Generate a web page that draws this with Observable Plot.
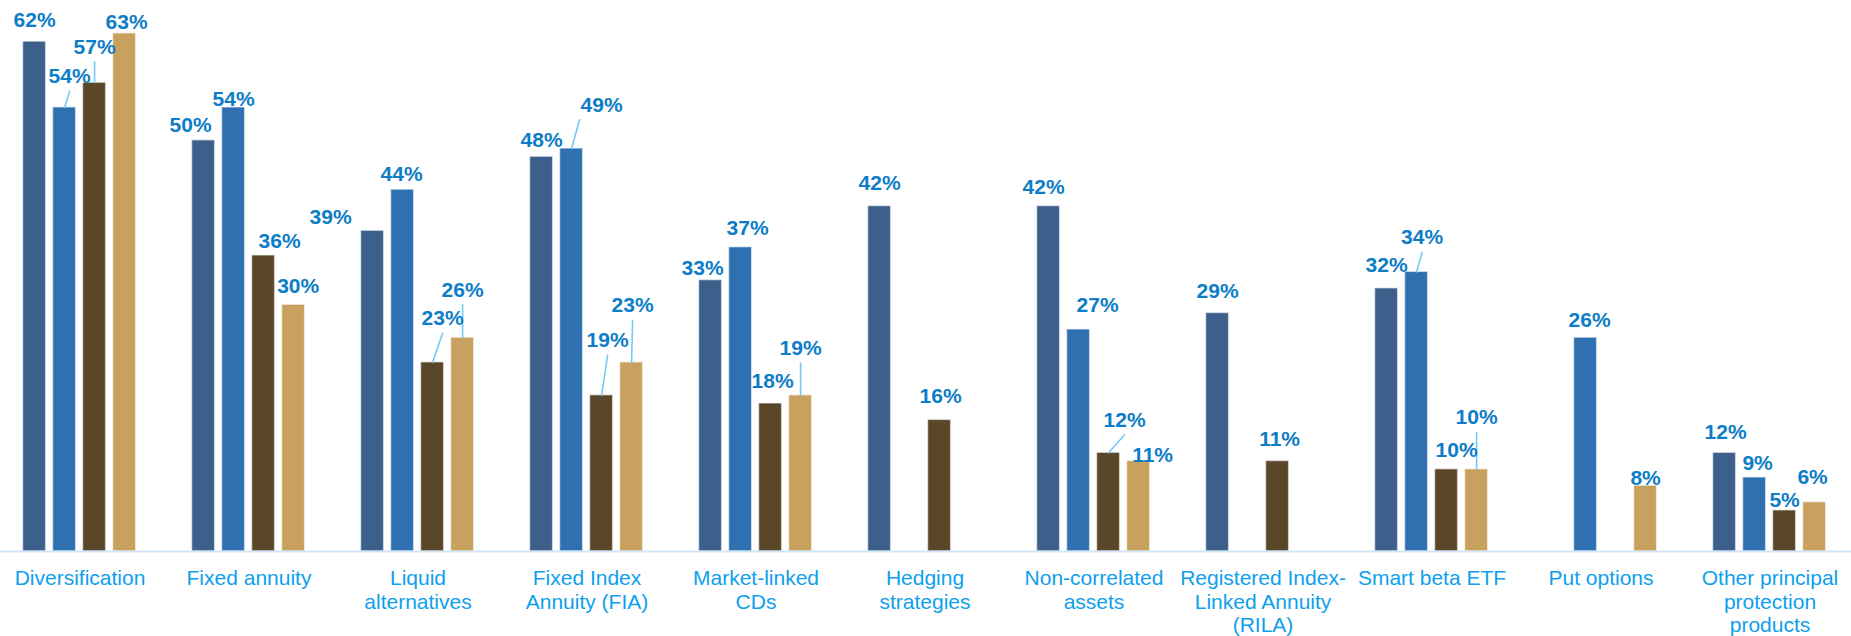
<!DOCTYPE html>
<html><head><meta charset="utf-8">
<script src="https://cdn.jsdelivr.net/npm/d3@7"></script>
<script src="https://cdn.jsdelivr.net/npm/@observablehq/plot@0.6"></script>
<style>html,body{margin:0;padding:0;background:#fff;} #chart{width:1851px;height:636px;overflow:hidden}</style>
</head><body><div id="chart"></div>
<script>
const categories = ["Diversification","Fixed annuity","Liquid alternatives","Fixed Index Annuity (FIA)","Market-linked CDs","Hedging strategies","Non-correlated assets","Registered Index-Linked Annuity (RILA)","Smart beta ETF","Put options","Other principal protection products"];
const categoryLabels = ["Diversification","Fixed annuity","Liquid\nalternatives","Fixed Index\nAnnuity (FIA)","Market-linked\nCDs","Hedging\nstrategies","Non-correlated\nassets","Registered Index-\nLinked Annuity\n(RILA)","Smart beta ETF","Put options","Other principal\nprotection\nproducts"];
const seriesNames = ["Series 1","Series 2","Series 3","Series 4"];
const series1 = [62,50,39,48,33,42,42,29,32,null,12];
const series2 = [54,54,44,49,37,null,27,null,34,26,9];
const series3 = [57,36,23,19,18,16,12,11,10,null,5];
const series4 = [63,30,26,23,19,null,11,null,10,8,6];
const seriesColors = ["#3D5F8C","#2E70B0","#5A4628","#C8A15E"];

// label placement tweaks: [label dx px, gap px above bar top, leader line, leader end dx px]
const labelNudges = {
  "0-0":[0,14.6], "0-1":[5,24,1], "0-2":[0,29,1], "0-3":[2,4],
  "1-0":[-13,8], "1-1":[0,1.5], "1-2":[16,7], "1-3":[4.6,12],
  "2-0":[-42,7], "2-1":[-1,9], "2-2":[10,37,1], "2-3":[0,41,1],
  "3-0":[0,10], "3-1":[30,37,1,8], "3-2":[6,48,1], "3-3":[1,50,1],
  "4-0":[-8,5], "4-1":[7,12], "4-2":[2,15.3], "4-3":[0,40,1],
  "5-0":[0,16], "5-2":[1,17],
  "6-0":[-5,12], "6-1":[19,17], "6-2":[16,26,1], "6-3":[14,-1],
  "7-0":[0,15], "7-2":[2,15],
  "8-0":[0,16], "8-1":[5.5,27.5,1], "8-2":[10,12], "8-3":[0,45,1],
  "9-1":[4,11], "9-3":[0,1],
  "10-0":[1,13.4], "10-1":[3,7], "10-2":[0,3], "10-3":[-2,18]
};

const allSeries = [series1, series2, series3, series4];
const rows = [];
categories.forEach((c, i) => {
  allSeries.forEach((vals, s) => {
    const v = vals[i];
    if (v == null) return;
    const n = labelNudges[`${i}-${s}`] || [0, 15, 0];
    rows.push({category: c, series: seriesNames[s], value: v, dx: n[0], gap: n[1], leader: !!n[2],
      leaderDx: n[3] != null ? n[3] : n[0]});
  });
});

const labelMarks = rows.map(r => Plot.text([r], {
  fx: "category", x: "series", y: "value",
  text: d => `${d.value}%`, dx: r.dx, dy: -r.gap,
  lineAnchor: "bottom", fontSize: 21, fontWeight: "bold", fill: "#0D7DC7"
}));

const leaderMarks = rows.filter(r => r.leader).map(r => {
  const h = r.gap - 8;
  return Plot.vector([r], {
    fx: "category", x: "series", y: "value",
    length: Math.hypot(r.leaderDx, h), rotate: Math.atan2(r.leaderDx, h) * 180 / Math.PI,
    anchor: "start", stroke: "#78C8F6", strokeWidth: 1.6,
    shape: {draw(context, l) { context.moveTo(0, 0); context.lineTo(0, -l); }}
  });
});

const chart = Plot.plot({
  width: 1851, height: 636,
  marginTop: 0, marginBottom: 85, marginLeft: -5.6, marginRight: -4.6,
  style: {fontFamily: "'Liberation Sans', Arial, sans-serif", background: "#fff"},
  fx: {domain: categories, padding: 0, label: null},
  x: {domain: seriesNames, paddingInner: 0.226, paddingOuter: 0.842, axis: null},
  y: {domain: [0, 67], axis: null},
  color: {domain: seriesNames, range: seriesColors},
  marks: [
    Plot.barY(rows, {fx: "category", x: "series", y: "value", fill: "series", stroke: "#fff", strokeOpacity: 0.55, strokeWidth: 1.4}),
    Plot.ruleY([0], {stroke: "#CFE6F8", strokeWidth: 2}),
    ...leaderMarks,
    ...labelMarks,
    Plot.axisFx({anchor: "bottom", tickSize: 0, tickPadding: 17, fontSize: 21, lineHeight: 1.12,
      color: "#0EA0EC", label: null, tickFormat: c => categoryLabels[categories.indexOf(c)]})
  ]
});
document.getElementById("chart").appendChild(chart);
</script>
</body></html>
